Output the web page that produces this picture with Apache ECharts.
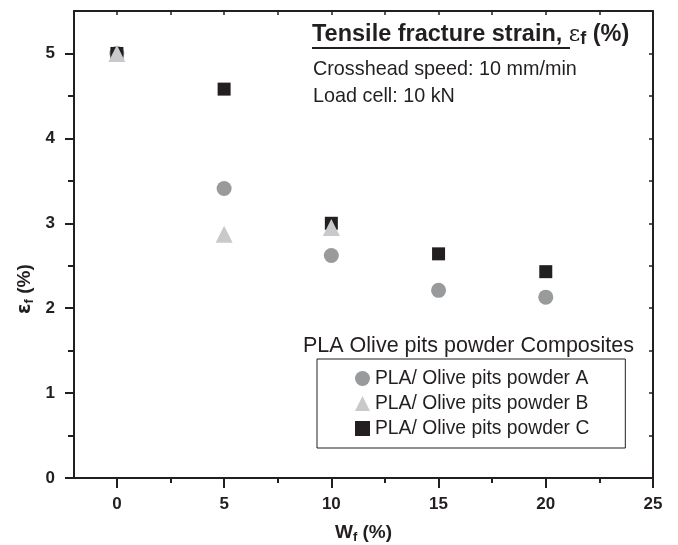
<!DOCTYPE html>
<html>
<head>
<meta charset="utf-8">
<script src="https://cdn.jsdelivr.net/npm/echarts@6/dist/echarts.min.js"></script>
<style>
html, body { margin: 0; padding: 0; background: #fff; }
#chart { width: 678px; height: 545px; }
</style>
</head>
<body>
<div id="chart"></div>
<script>
// W_f (%) loadings
var wf = [0, 5, 10, 15, 20];
// tensile fracture strain values
var powderA = [5.0, 3.41, 2.62, 2.21, 2.13];
var powderB = [5.0, 2.87, 2.95];
var powderC = [5.0, 4.58, 3.0, 2.64, 2.43];
var seriesNames = ['PLA/ Olive pits powder A', 'PLA/ Olive pits powder B', 'PLA/ Olive pits powder C'];

var xMajor = [0, 5, 10, 15, 20, 25];
var xMinor = [2.5, 7.5, 12.5, 17.5, 22.5];
var xTop = [0, 2.5, 5, 7.5, 10, 12.5, 15, 17.5, 20, 22.5];
var yMajor = [0, 1, 2, 3, 4, 5];
var yMinor = [0.5, 1.5, 2.5, 3.5, 4.5];
var yRight = [0.5, 1, 1.5, 2, 2.5, 3, 3.5, 4, 4.5, 5];

var ink = '#231f20';
var font = '"Liberation Sans", Arial, sans-serif';

function pairs(xs, ys) {
    var out = [];
    ys.forEach(function (v, i) { out.push([xs[i], v]); });
    return out;
}

function axisBase(extra) {
    var base = {
        type: 'value',
        splitLine: { show: false },
        axisLine: { show: true, onZero: false, lineStyle: { color: ink, width: 2 } },
        axisTick: { show: false },
        axisLabel: { show: false }
    };
    for (var k in extra) base[k] = extra[k];
    return base;
}

var chart = echarts.init(document.getElementById('chart'));
chart.setOption({
    animation: false,
    grid: { left: 74, right: 25, top: 11, bottom: 67, outerBoundsMode: 'none' },
    xAxis: [
        axisBase({
            position: 'bottom', min: -2, max: 25,
            axisTick: { show: true, length: 10, customValues: xMajor, lineStyle: { color: ink, width: 2 } },
            axisLabel: { show: true, customValues: xMajor, margin: 18, fontSize: 17, fontWeight: 'bold', fontFamily: font, color: ink },
            name: 'W{s|f} (%)', nameLocation: 'middle', nameGap: 43,
            nameTextStyle: {
                fontSize: 19, fontWeight: 'bold', fontFamily: font, color: ink,
                rich: { s: { fontSize: 13, fontWeight: 'bold', fontFamily: font, color: ink, padding: [10, 0, 0, 0] } }
            }
        }),
        axisBase({
            position: 'bottom', min: -2, max: 25,
            axisLine: { show: false, onZero: false },
            axisTick: { show: true, length: 5, customValues: xMinor, lineStyle: { color: ink, width: 2 } }
        }),
        axisBase({
            position: 'top', min: -2, max: 25,
            axisTick: { show: true, inside: true, length: 4, customValues: xTop, lineStyle: { color: ink, width: 1.5 } }
        })
    ],
    yAxis: [
        axisBase({
            position: 'left', min: 0, max: 5.5,
            axisTick: { show: true, length: 9, customValues: yMajor, lineStyle: { color: ink, width: 2 } },
            axisLabel: { show: true, customValues: yMajor, margin: 19, fontSize: 17, fontWeight: 'bold', fontFamily: font, color: ink }
        }),
        axisBase({
            position: 'left', min: 0, max: 5.5,
            axisLine: { show: false, onZero: false },
            axisTick: { show: true, length: 6, customValues: yMinor, lineStyle: { color: ink, width: 2 } }
        }),
        axisBase({
            position: 'right', min: 0, max: 5.5,
            axisTick: { show: true, inside: true, length: 4, customValues: yRight, lineStyle: { color: ink, width: 1.5 } }
        })
    ],
    legend: {
        orient: 'vertical',
        left: 317, top: 359,
        padding: [10, 36, 10, 38],
        itemGap: 6,
        itemWidth: 15, itemHeight: 15,
        borderColor: ink, borderWidth: 1,
        data: [
            { name: seriesNames[0], icon: 'circle' },
            { name: seriesNames[1], icon: 'triangle' },
            { name: seriesNames[2], icon: 'rect' }
        ],
        textStyle: { fontSize: 19.3, fontFamily: font, color: ink }
    },
    series: [
        {
            name: seriesNames[0], type: 'scatter', symbol: 'circle', symbolSize: 15,
            itemStyle: { color: '#999a9c', opacity: 1 },
            data: pairs(wf, powderA)
        },
        {
            name: seriesNames[2], type: 'scatter', symbol: 'rect', symbolSize: 13,
            itemStyle: { color: ink, opacity: 1 },
            data: pairs(wf, powderC)
        },
        {
            name: seriesNames[1], type: 'scatter', symbol: 'triangle', symbolSize: 17,
            itemStyle: { color: '#c8c9cb', opacity: 1 },
            data: pairs(wf, powderB)
        }
    ],
    graphic: [
        {
            type: 'text', left: 312, top: 23,
            style: {
                text: '{b|Tensile fracture strain, }{e|ε}{s|f}{b| (%)}',
                fill: ink,
                rich: {
                    b: { fontSize: 23.5, fontWeight: 'bold', fontFamily: font, fill: ink },
                    e: { fontSize: 22, fontFamily: '"DejaVu Serif", serif', fill: ink },
                    s: { fontSize: 18, fontWeight: 'bold', fontFamily: font, fill: ink, padding: [9, 0, 0, 0] }
                }
            }
        },
        {
            type: 'line',
            shape: { x1: 312, y1: 48, x2: 570, y2: 48 },
            style: { stroke: ink, lineWidth: 2 }
        },
        {
            type: 'text', left: 313, top: 60,
            style: { text: 'Crosshead speed: 10 mm/min', fontSize: 19.8, fontFamily: font, fill: ink }
        },
        {
            type: 'text', left: 313, top: 87,
            style: { text: 'Load cell: 10 kN', fontSize: 19.8, fontFamily: font, fill: ink }
        },
        {
            type: 'text', left: 303, top: 335,
            style: { text: 'PLA Olive pits powder Composites', fontSize: 21.5, fontFamily: font, fill: ink }
        },
        {
            type: 'text', x: 14, y: 314, rotation: Math.PI / 2,
            style: {
                text: '{e|ε}{s|f}{b| (%)}',
                fill: ink,
                rich: {
                    e: { fontSize: 19, fontWeight: 'bold', fontFamily: '"DejaVu Sans", sans-serif', fill: ink },
                    s: { fontSize: 13, fontWeight: 'bold', fontFamily: font, fill: ink, padding: [9, 0, 0, 0] },
                    b: { fontSize: 19, fontWeight: 'bold', fontFamily: font, fill: ink }
                }
            }
        }
    ]
});
</script>
</body>
</html>
